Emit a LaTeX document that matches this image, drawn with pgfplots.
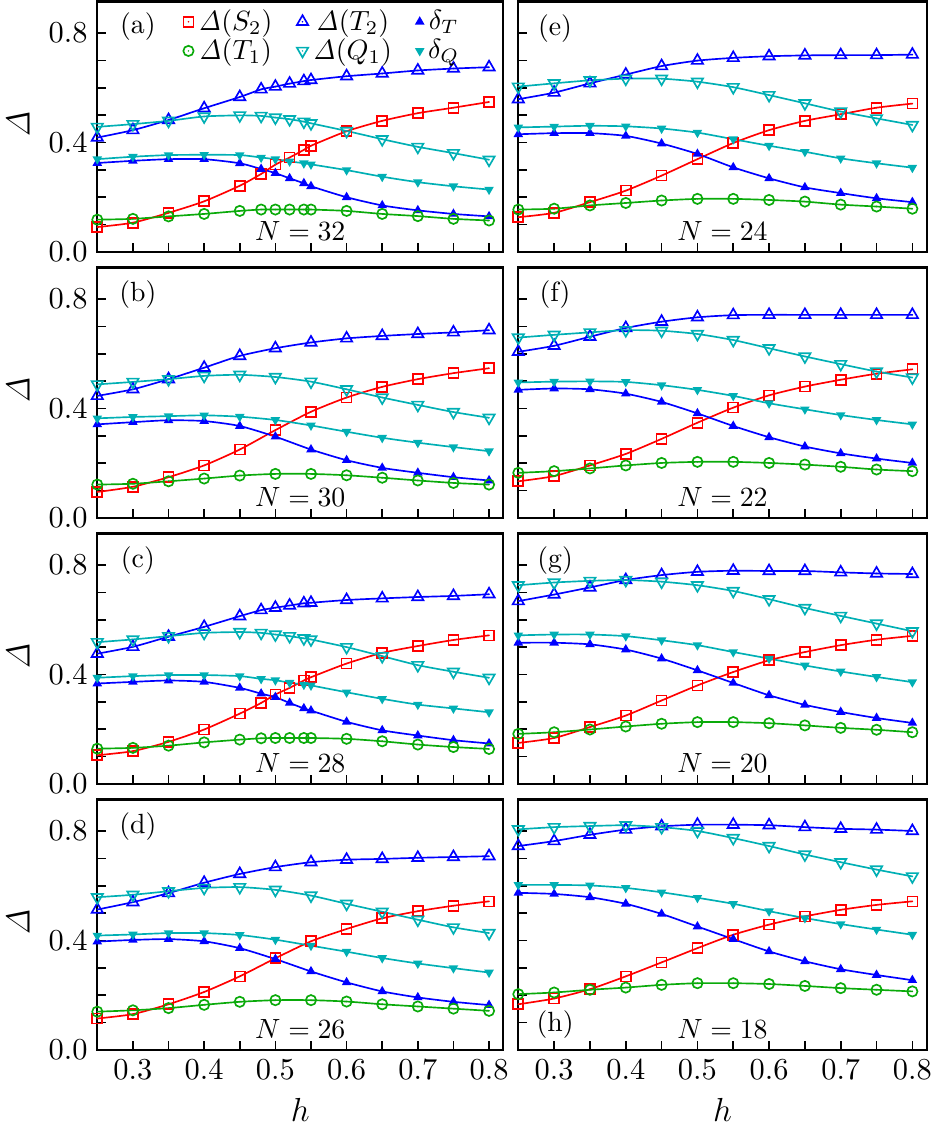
\documentclass[border=0pt]{standalone}
\usepackage{pgfplots}
\usepackage{pgfplotstable}
\pgfplotsset{compat=1.18}

\definecolor{cred}{RGB}{255,0,0}
\definecolor{cgreen}{RGB}{10,170,10}
\definecolor{cblue}{RGB}{0,0,255}
\definecolor{ccyan}{RGB}{0,175,180}

\pgfdeclareplotmark{osq}{%
  \pgfpathrectangle{\pgfqpoint{-\pgfplotmarksize}{-\pgfplotmarksize}}{\pgfqpoint{2\pgfplotmarksize}{2\pgfplotmarksize}}%
  \pgfusepathqstroke
  \pgfpathcircle{\pgfpointorigin}{0.3pt}\pgfusepathqfill}
\pgfdeclareplotmark{ocirc}{%
  \pgfpathcircle{\pgfpointorigin}{\pgfplotmarksize}\pgfusepathqstroke
  \pgfpathcircle{\pgfpointorigin}{0.3pt}\pgfusepathqfill}
\pgfdeclareplotmark{otriu}{%
  \pgfpathmoveto{\pgfqpointpolar{90}{\pgfplotmarksize}}%
  \pgfpathlineto{\pgfqpointpolar{210}{\pgfplotmarksize}}%
  \pgfpathlineto{\pgfqpointpolar{330}{\pgfplotmarksize}}%
  \pgfpathclose\pgfusepathqstroke
  \pgfpathcircle{\pgfpointorigin}{0.3pt}\pgfusepathqfill}
\pgfdeclareplotmark{otrid}{%
  \pgfpathmoveto{\pgfqpointpolar{270}{\pgfplotmarksize}}%
  \pgfpathlineto{\pgfqpointpolar{30}{\pgfplotmarksize}}%
  \pgfpathlineto{\pgfqpointpolar{150}{\pgfplotmarksize}}%
  \pgfpathclose\pgfusepathqstroke
  \pgfpathcircle{\pgfpointorigin}{0.3pt}\pgfusepathqfill}

% h S2 T1 T2 Q1 dT dQ
\pgfplotstableread{
h S2 T1 T2 Q1 dT dQ
0.25 0.091 0.118 0.418 0.457 0.325 0.339
0.30 0.107 0.121 0.445 0.467 0.333 0.348
0.35 0.143 0.130 0.482 0.479 0.339 0.354
0.40 0.185 0.139 0.525 0.495 0.339 0.355
0.45 0.242 0.150 0.566 0.499 0.324 0.354
0.48 0.285 0.155 0.594 0.497 0.303 0.345
0.50 0.319 0.155 0.604 0.491 0.288 0.339
0.52 0.345 0.155 0.615 0.485 0.269 0.331
0.54 0.373 0.155 0.624 0.476 0.251 0.324
0.55 0.388 0.155 0.628 0.470 0.240 0.320
0.60 0.441 0.150 0.642 0.442 0.200 0.299
0.65 0.479 0.139 0.652 0.412 0.170 0.275
0.70 0.507 0.131 0.663 0.384 0.152 0.255
0.75 0.527 0.121 0.670 0.361 0.139 0.240
0.80 0.548 0.115 0.675 0.337 0.130 0.228
}\Ta
\pgfplotstableread{
h S2 T1 T2 Q1 dT dQ
0.25 0.095 0.122 0.446 0.488 0.342 0.364
0.30 0.114 0.125 0.470 0.497 0.350 0.369
0.35 0.149 0.134 0.507 0.507 0.357 0.372
0.40 0.192 0.144 0.549 0.519 0.354 0.375
0.45 0.250 0.155 0.592 0.523 0.336 0.370
0.50 0.321 0.161 0.620 0.515 0.297 0.358
0.55 0.388 0.161 0.641 0.498 0.250 0.338
0.60 0.440 0.156 0.656 0.470 0.211 0.315
0.65 0.479 0.147 0.665 0.440 0.183 0.293
0.70 0.507 0.137 0.672 0.413 0.165 0.275
0.75 0.529 0.128 0.678 0.387 0.149 0.259
0.80 0.547 0.122 0.686 0.366 0.137 0.244
}\Tb
\pgfplotstableread{
h S2 T1 T2 Q1 dT dQ
0.25 0.105 0.129 0.476 0.518 0.367 0.388
0.30 0.120 0.132 0.501 0.528 0.373 0.394
0.35 0.154 0.140 0.538 0.540 0.378 0.398
0.40 0.199 0.152 0.574 0.552 0.373 0.398
0.45 0.257 0.162 0.613 0.555 0.351 0.394
0.48 0.296 0.167 0.635 0.552 0.330 0.384
0.50 0.327 0.168 0.644 0.546 0.317 0.379
0.52 0.351 0.168 0.652 0.540 0.296 0.370
0.54 0.378 0.168 0.660 0.532 0.276 0.363
0.55 0.390 0.168 0.662 0.528 0.268 0.360
0.60 0.440 0.165 0.672 0.500 0.227 0.335
0.65 0.479 0.156 0.678 0.467 0.196 0.311
0.70 0.504 0.144 0.683 0.434 0.177 0.290
0.75 0.526 0.135 0.687 0.410 0.160 0.276
0.80 0.543 0.128 0.693 0.388 0.148 0.262
}\Tc
\pgfplotstableread{
h S2 T1 T2 Q1 dT dQ
0.25 0.115 0.140 0.513 0.558 0.396 0.418
0.30 0.131 0.145 0.540 0.567 0.402 0.422
0.35 0.167 0.153 0.573 0.580 0.405 0.427
0.40 0.212 0.165 0.611 0.592 0.397 0.427
0.45 0.269 0.176 0.643 0.595 0.372 0.420
0.50 0.335 0.182 0.668 0.585 0.332 0.403
0.55 0.397 0.182 0.686 0.564 0.287 0.381
0.60 0.442 0.177 0.695 0.534 0.247 0.359
0.65 0.481 0.167 0.698 0.505 0.214 0.336
0.70 0.507 0.159 0.702 0.476 0.192 0.316
0.75 0.527 0.151 0.705 0.448 0.176 0.299
0.80 0.543 0.143 0.708 0.427 0.164 0.283
}\Td
\pgfplotstableread{
h S2 T1 T2 Q1 dT dQ
0.25 0.127 0.155 0.558 0.604 0.430 0.455
0.30 0.143 0.158 0.582 0.616 0.434 0.458
0.35 0.182 0.170 0.616 0.627 0.434 0.461
0.40 0.224 0.179 0.648 0.633 0.424 0.459
0.45 0.279 0.188 0.679 0.633 0.396 0.451
0.50 0.339 0.194 0.699 0.622 0.358 0.436
0.55 0.398 0.194 0.709 0.602 0.309 0.412
0.60 0.445 0.190 0.715 0.573 0.269 0.388
0.65 0.479 0.184 0.718 0.543 0.236 0.366
0.70 0.503 0.173 0.719 0.513 0.215 0.342
0.75 0.527 0.166 0.719 0.488 0.196 0.324
0.80 0.542 0.158 0.721 0.464 0.182 0.308
}\Te
\pgfplotstableread{
h S2 T1 T2 Q1 dT dQ
0.25 0.134 0.165 0.607 0.659 0.468 0.495
0.30 0.153 0.171 0.629 0.669 0.473 0.498
0.35 0.192 0.181 0.662 0.678 0.470 0.499
0.40 0.234 0.192 0.694 0.686 0.454 0.497
0.45 0.289 0.201 0.717 0.684 0.424 0.485
0.50 0.348 0.205 0.733 0.672 0.382 0.468
0.55 0.403 0.205 0.741 0.650 0.336 0.446
0.60 0.448 0.201 0.742 0.620 0.295 0.419
0.65 0.480 0.195 0.742 0.590 0.261 0.397
0.70 0.505 0.187 0.742 0.562 0.236 0.376
0.75 0.527 0.177 0.742 0.535 0.217 0.358
0.80 0.543 0.171 0.742 0.513 0.201 0.342
}\Tf
\pgfplotstableread{
h S2 T1 T2 Q1 dT dQ
0.25 0.150 0.183 0.668 0.726 0.516 0.543
0.30 0.168 0.189 0.692 0.736 0.516 0.546
0.35 0.208 0.199 0.718 0.742 0.510 0.546
0.40 0.250 0.210 0.745 0.745 0.491 0.540
0.45 0.305 0.220 0.763 0.739 0.458 0.525
0.50 0.360 0.226 0.775 0.726 0.415 0.507
0.55 0.409 0.226 0.779 0.705 0.369 0.482
0.60 0.452 0.222 0.778 0.675 0.324 0.458
0.65 0.482 0.214 0.778 0.643 0.289 0.433
0.70 0.507 0.205 0.773 0.614 0.263 0.411
0.75 0.527 0.198 0.769 0.586 0.241 0.391
0.80 0.541 0.189 0.767 0.558 0.223 0.372
}\Tg
\pgfplotstableread{
h S2 T1 T2 Q1 dT dQ
0.25 0.167 0.204 0.745 0.806 0.574 0.603
0.30 0.188 0.210 0.763 0.814 0.570 0.603
0.35 0.222 0.220 0.786 0.818 0.558 0.601
0.40 0.269 0.228 0.805 0.821 0.534 0.592
0.45 0.320 0.238 0.817 0.814 0.497 0.576
0.50 0.372 0.244 0.823 0.800 0.451 0.556
0.55 0.421 0.244 0.823 0.774 0.405 0.534
0.60 0.458 0.241 0.821 0.745 0.360 0.507
0.65 0.488 0.234 0.814 0.714 0.324 0.482
0.70 0.512 0.226 0.808 0.686 0.295 0.460
0.75 0.530 0.220 0.805 0.659 0.274 0.440
0.80 0.543 0.214 0.800 0.634 0.255 0.421
}\Th

\pgfplotsset{
  panel/.style={
    scale only axis, height=90.18pt,
    xmin=0.25, xmax=0.82, ymin=0, ymax=0.915,
    xtick={0.3,0.4,0.5,0.6,0.7,0.8},
    minor xtick={0.25,0.35,0.45,0.55,0.65,0.75},
    ytick={0,0.4,0.8},
    minor ytick={0.1,0.2,0.3,0.5,0.6,0.7},
    tick align=inside, xtick pos=bottom, ytick pos=left,
    major tick length=3.2pt, minor tick length=3.2pt,
    tick style={black, line width=0.6pt},
    axis line style={line width=0.8pt},
    tick label style={font=\fontsize{11}{13}\selectfont},
    xticklabel style={/pgf/number format/.cd,fixed,fixed zerofill,precision=1},
    yticklabel style={/pgf/number format/.cd,fixed,fixed zerofill,precision=1},
    every axis y label/.style={at={(rel axis cs:-0.195,0.51)}, rotate=90, anchor=center, font=\fontsize{13}{15}\selectfont},
    every axis x label/.style={at={(rel axis cs:0.5,-0.24)}, anchor=center, font=\fontsize{13}{15}\selectfont},
    clip=false,
  },
  lcol/.style={width=146.16pt},
  rcol/.style={width=147.02pt, yticklabels={}},
  notx/.style={xticklabels={}},
  sS2/.style={cred, line width=0.6pt, smooth, tension=0.4, mark=osq, mark size=1.8pt, mark options={solid}},
  sT1/.style={cgreen, line width=0.6pt, smooth, tension=0.4, mark=ocirc, mark size=1.85pt, mark options={solid}},
  sT2/.style={cblue, line width=0.6pt, smooth, tension=0.4, mark=otriu, mark size=2.35pt, mark options={solid}},
  sQ1/.style={ccyan, line width=0.6pt, smooth, tension=0.4, mark=otrid, mark size=2.35pt, mark options={solid}},
  sdT/.style={cblue, line width=0.6pt, smooth, tension=0.4, mark=triangle*, mark size=1.4pt, mark options={solid}},
  sdQ/.style={ccyan, line width=0.6pt, smooth, tension=0.4, mark=triangle*, mark size=1.4pt, mark options={solid, rotate=180}},
}

\newcommand{\plotsix}[1]{%
  \addplot[sS2] table[x=h,y=S2]{#1};
  \addplot[sT2] table[x=h,y=T2]{#1};
  \addplot[sdT] table[x=h,y=dT]{#1};
  \addplot[sT1] table[x=h,y=T1]{#1};
  \addplot[sQ1] table[x=h,y=Q1]{#1};
  \addplot[sdQ] table[x=h,y=dQ]{#1};
}

\begin{document}
\begin{tikzpicture}
\useasboundingbox (0,0) rectangle (336.24pt,408.24pt);
% ---------- left column ----------
\begin{axis}[panel, lcol, notx, at={(35.03pt,317.52pt)}, ylabel={$\mathit{\Delta}$},
  legend columns=3,
  legend image code/.code={\draw[#1, only marks] plot coordinates {(0.12cm,0cm)};},
  legend style={draw=none, fill=none, at={(0.19,1.0)}, anchor=north west,
    font=\normalsize, row sep=0.3pt, nodes={inner ysep=0.6pt, inner xsep=1.8pt},
    /tikz/every even column/.append style={column sep=7pt}}]
\plotsix{\Ta}
\node at (rel axis cs:0.1,0.898) {(a)};
\node at (axis cs:0.535,0.075) {$N=32$};
\legend{$\mathit{\Delta}(S_2)$, $\mathit{\Delta}(T_2)$, $\delta_T$, $\mathit{\Delta}(T_1)$, $\mathit{\Delta}(Q_1)$, $\delta_Q$}
\end{axis}
\begin{axis}[panel, lcol, notx, at={(35.03pt,221.76pt)}, ylabel={$\mathit{\Delta}$}]
\plotsix{\Tb}
\node at (rel axis cs:0.1,0.89) {(b)};
\node at (axis cs:0.535,0.075) {$N=30$};
\end{axis}
\begin{axis}[panel, lcol, notx, at={(35.03pt,126pt)}, ylabel={$\mathit{\Delta}$}]
\plotsix{\Tc}
\node at (rel axis cs:0.1,0.89) {(c)};
\node at (axis cs:0.535,0.075) {$N=28$};
\end{axis}
\begin{axis}[panel, lcol, at={(35.03pt,30.24pt)}, ylabel={$\mathit{\Delta}$}, xlabel={$h$}]
\plotsix{\Td}
\node at (rel axis cs:0.1,0.89) {(d)};
\node at (axis cs:0.535,0.075) {$N=26$};
\end{axis}
% ---------- right column ----------
\begin{axis}[panel, rcol, notx, at={(186.59pt,317.52pt)}]
\plotsix{\Te}
\node at (rel axis cs:0.09,0.89) {(e)};
\node at (axis cs:0.535,0.075) {$N=24$};
\end{axis}
\begin{axis}[panel, rcol, notx, at={(186.59pt,221.76pt)}]
\plotsix{\Tf}
\node at (rel axis cs:0.09,0.89) {(f)};
\node at (axis cs:0.535,0.075) {$N=22$};
\end{axis}
\begin{axis}[panel, rcol, notx, at={(186.59pt,126pt)}]
\plotsix{\Tg}
\node at (rel axis cs:0.09,0.89) {(g)};
\node at (axis cs:0.535,0.075) {$N=20$};
\end{axis}
\begin{axis}[panel, rcol, at={(186.59pt,30.24pt)}, xlabel={$h$}]
\plotsix{\Th}
\node at (rel axis cs:0.09,0.1) {(h)};
\node at (axis cs:0.535,0.075) {$N=18$};
\end{axis}
\end{tikzpicture}
\end{document}
